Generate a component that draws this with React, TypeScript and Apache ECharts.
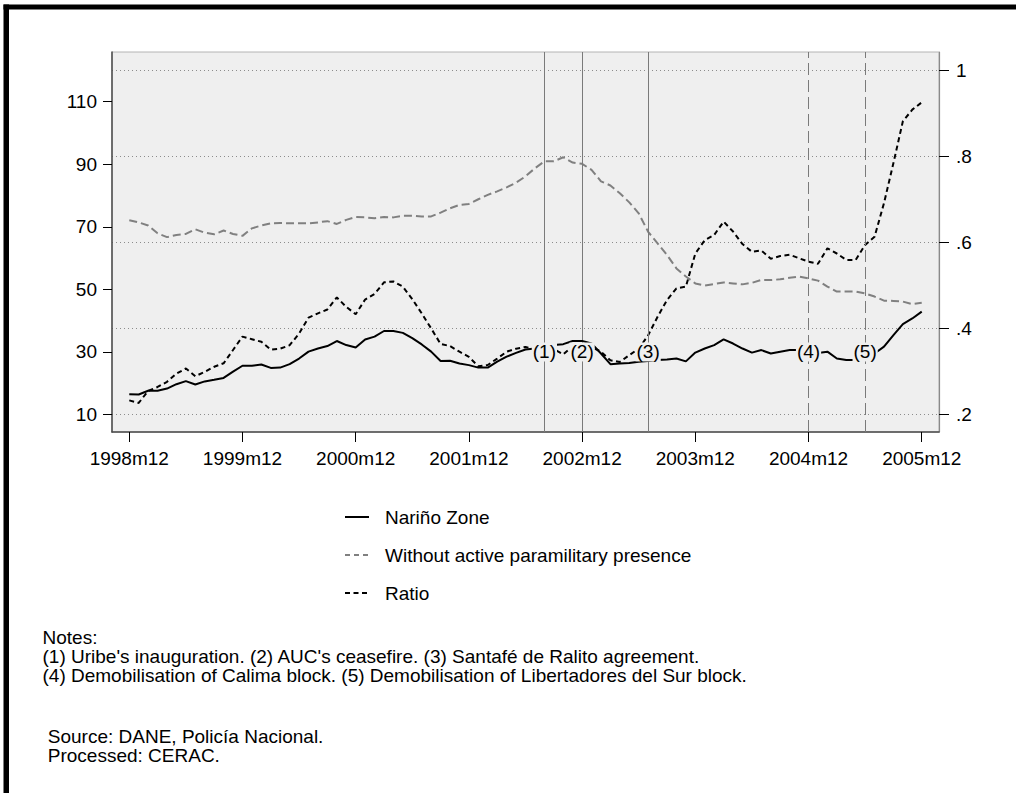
import React, { useEffect, useRef } from "react";
import * as echarts from "echarts";

const FONT = "'Liberation Sans', Arial, Helvetica, sans-serif";

// Months indexed from 1998m12 (0) to 2005m12 (84)
const xTickValues = [0, 12, 24, 36, 48, 60, 72, 84];
const xTickLabels = ["1998m12", "1999m12", "2000m12", "2001m12", "2002m12", "2003m12", "2004m12", "2005m12"];
const leftTickValues = [10, 30, 50, 70, 90, 110];
const rightTickValues = [0.2, 0.4, 0.6, 0.8, 1];
const rightTickLabels = [".2", ".4", ".6", ".8", "1"];

const seriesNames = ["Nariño Zone", "Without active paramilitary presence", "Ratio"];
const seriesColors = ["#000000", "#808080", "#000000"];
const seriesDash: any[] = ["solid", [8, 4], [5, 3.5]];
const legendDash: any[] = [null, [5, 4], [5, 3.5]];

const narino = [
  16.5, 16.4, 17.6, 17.6, 18.3, 19.7, 20.7, 19.6, 20.6, 21.1, 21.7, 23.7,
  25.6, 25.6, 26.0, 24.9, 25.0, 26.1, 27.9, 30.1, 31.1, 31.9, 33.5, 32.2,
  31.4, 34.0, 34.9, 36.7, 36.7, 36.1, 34.4, 32.4, 30.1, 27.1, 27.2, 26.3,
  25.8, 25.0, 25.0, 26.9, 28.5, 29.7, 30.8, 31.1, 31.5, 32.2, 32.5, 33.5,
  33.5, 32.7, 29.5, 26.1, 26.3, 26.5, 26.9, 27.1, 27.4, 27.6, 27.9, 27.0,
  29.8, 31.1, 32.2, 34.0, 32.7, 31.1, 29.8, 30.6, 29.5, 30.1, 30.6, 30.6,
  30.4, 29.7, 30.1, 27.9, 27.4, 27.4, 28.0, 29.5, 31.7, 35.4, 38.9, 40.7,
  42.9,
];

const withoutPresence = [
  72.1, 71.4, 70.4, 67.9, 66.7, 67.4, 67.7, 69.2, 68.1, 67.6, 68.8, 67.7,
  67.1, 69.5, 70.4, 71.1, 71.2, 71.1, 71.1, 71.1, 71.4, 71.8, 70.9, 72.2,
  73.1, 73.0, 72.7, 73.1, 73.0, 73.5, 73.5, 73.3, 73.3, 74.5, 75.9, 77.0,
  77.3, 78.8, 80.2, 81.3, 82.6, 84.1, 86.1, 88.7, 90.9, 90.9, 92.2, 90.5,
  90.1, 88.2, 84.5, 83.2, 80.7, 77.8, 74.3, 68.4, 64.7, 61.0, 56.7, 54.1,
  51.9, 51.2, 51.7, 52.2, 51.9, 51.6, 52.1, 53.0, 53.0, 53.2, 53.7, 54.1,
  53.5, 52.8, 50.9, 49.3, 49.3, 49.3, 48.7, 47.7, 46.4, 46.3, 46.1, 45.3,
  45.7,
];

const ratio = [
  0.233, 0.227, 0.255, 0.264, 0.276, 0.295, 0.307, 0.289, 0.299, 0.311, 0.319, 0.350,
  0.381, 0.375, 0.369, 0.351, 0.353, 0.361, 0.388, 0.425, 0.435, 0.444, 0.472, 0.450,
  0.433, 0.467, 0.480, 0.507, 0.509, 0.497, 0.468, 0.435, 0.400, 0.364, 0.359, 0.346,
  0.334, 0.312, 0.315, 0.330, 0.346, 0.353, 0.357, 0.352, 0.348, 0.352, 0.340, 0.359,
  0.359, 0.357, 0.346, 0.326, 0.322, 0.338, 0.353, 0.384, 0.427, 0.466, 0.493, 0.497,
  0.574, 0.605, 0.617, 0.648, 0.625, 0.596, 0.578, 0.581, 0.562, 0.568, 0.571, 0.563,
  0.555, 0.550, 0.586, 0.574, 0.559, 0.559, 0.594, 0.613, 0.691, 0.784, 0.881, 0.908,
  0.925,
];

// Events: month index, label, line style
const eventMonths = [44, 48, 55, 72, 78];
const eventLabels = ["(1)", "(2)", "(3)", "(4)", "(5)"];
const eventDashed = [false, false, false, true, true];
const eventLabelY = 30;

const noteLines = [
  "Notes:",
  "(1) Uribe's inauguration. (2) AUC's ceasefire. (3) Santafé de Ralito agreement.",
  "(4) Demobilisation of Calima block. (5) Demobilisation of Libertadores del Sur block.",
];
const sourceLines = [" Source: DANE, Policía Nacional.", " Processed: CERAC."];

export default function App() {
  const ref = useRef<HTMLDivElement>(null);

  useEffect(() => {
    if (!ref.current) return;
    const chart = echarts.init(ref.current, undefined, { renderer: "svg" });

    const toPairs = (arr: number[]) => arr.map((v, i) => [i, v]);
    const axisText = { fontSize: 19, fontFamily: FONT, color: "#000" };
    const textStyle = (t: string) => ({ text: t, font: `19px ${FONT}`, fill: "#000", textVerticalAlign: "middle" });

    const graphics: any[] = [
      { type: "rect", left: 3.5, top: 4.5, shape: { width: 5.5, height: 790 }, style: { fill: "#000" } },
      { type: "rect", left: 3.5, top: 4.5, shape: { width: 1013, height: 5 }, style: { fill: "#000" } },
    ];
    // legend
    seriesNames.forEach((name, k) => {
      const y = 517 + k * 38;
      graphics.push({
        type: "line",
        shape: { x1: 345, y1: y, x2: 369, y2: y },
        style: { stroke: seriesColors[k], lineWidth: 2, lineDash: legendDash[k] },
      });
      graphics.push({ type: "text", x: 385, y, style: textStyle(name) });
    });
    // notes
    const noteY = [637, 656.5, 675.5];
    noteLines.forEach((t, k) => {
      graphics.push({ type: "text", x: 42.5, y: noteY[k], style: textStyle(t) });
    });
    sourceLines.forEach((t, k) => {
      graphics.push({ type: "text", x: 42.5, y: 736 + k * 19, style: textStyle(t) });
    });

    const option: any = {
      animation: false,
      backgroundColor: "#fff",
      grid: {
        left: 112,
        right: 77,
        top: 52,
        bottom: 361,
        show: true,
        backgroundColor: "#efefef",
        borderColor: "#b4b4b4",
        borderWidth: 1,
      },
      xAxis: {
        type: "value",
        min: -1.83,
        max: 85.83,
        splitLine: { show: false },
        axisLine: { show: true, onZero: false, lineStyle: { color: "#4a4a4a", width: 1.5 } },
        axisTick: { show: true, length: 10, customValues: xTickValues, lineStyle: { color: "#000", width: 1 } },
        axisLabel: {
          ...axisText,
          margin: 17,
          customValues: xTickValues,
          formatter: (v: number) => xTickLabels[xTickValues.indexOf(v)] ?? "",
        },
      },
      yAxis: [
        {
          type: "value",
          position: "left",
          min: 4.43,
          max: 125.84,
          splitLine: { show: false },
          axisLine: { show: true, onZero: false, lineStyle: { color: "#4a4a4a", width: 1.5 } },
          axisTick: { show: true, length: 9, customValues: leftTickValues, lineStyle: { color: "#000", width: 1 } },
          axisLabel: { ...axisText, margin: 15, customValues: leftTickValues },
        },
        {
          type: "value",
          position: "right",
          min: 0.1595,
          max: 1.0419,
          splitLine: { show: true, lineStyle: { color: "#8c8c8c", width: 1, type: [1, 3] } },
          axisLine: { show: true, onZero: false, lineStyle: { color: "#8a8a8a", width: 1.2 } },
          axisTick: { show: true, length: 10, customValues: rightTickValues, lineStyle: { color: "#000", width: 1 } },
          axisLabel: {
            ...axisText,
            margin: 17,
            customValues: rightTickValues,
            formatter: (v: number) => {
              const k = rightTickValues.findIndex((t) => Math.abs(t - v) < 1e-6);
              return k >= 0 ? rightTickLabels[k] : "";
            },
          },
        },
      ],
      series: [
        {
          name: "events",
          type: "line",
          data: [],
          z: 1,
          markLine: {
            silent: true,
            symbol: "none",
            label: { show: false },
            data: eventMonths.map((m, k) => ({
              xAxis: m,
              lineStyle: { color: "#7a7a7a", width: 1, type: eventDashed[k] ? [12, 5] : "solid" },
            })),
          },
        },
        {
          name: seriesNames[1],
          type: "line",
          yAxisIndex: 0,
          data: toPairs(withoutPresence),
          symbol: "none",
          z: 3,
          lineStyle: { color: seriesColors[1], width: 2, type: seriesDash[1] },
        },
        {
          name: seriesNames[2],
          type: "line",
          yAxisIndex: 1,
          data: toPairs(ratio),
          symbol: "none",
          z: 4,
          lineStyle: { color: seriesColors[2], width: 2, type: seriesDash[2] },
        },
        {
          name: seriesNames[0],
          type: "line",
          yAxisIndex: 0,
          data: toPairs(narino),
          symbol: "none",
          z: 5,
          lineStyle: { color: seriesColors[0], width: 2, type: seriesDash[0] },
        },
        {
          name: "eventLabels",
          type: "scatter",
          yAxisIndex: 0,
          z: 10,
          symbolSize: 0,
          itemStyle: { color: "#000", opacity: 1 },
          data: eventMonths.map((m) => [m, eventLabelY]),
          label: {
            show: true,
            position: "inside",
            opacity: 1,
            formatter: (p: any) => eventLabels[p.dataIndex],
            ...axisText,
            textBorderWidth: 0,
            textBorderColor: "transparent",
            backgroundColor: "#efefef",
            padding: [0, 1, 0, 1],
          },
        },
      ],
      graphic: graphics,
    };

    chart.setOption(option);
    return () => chart.dispose();
  }, []);

  return (
    <div
      ref={ref}
      style={{ position: "absolute", left: 0, top: 0, width: 1016, height: 793 }}
    />
  );
}
